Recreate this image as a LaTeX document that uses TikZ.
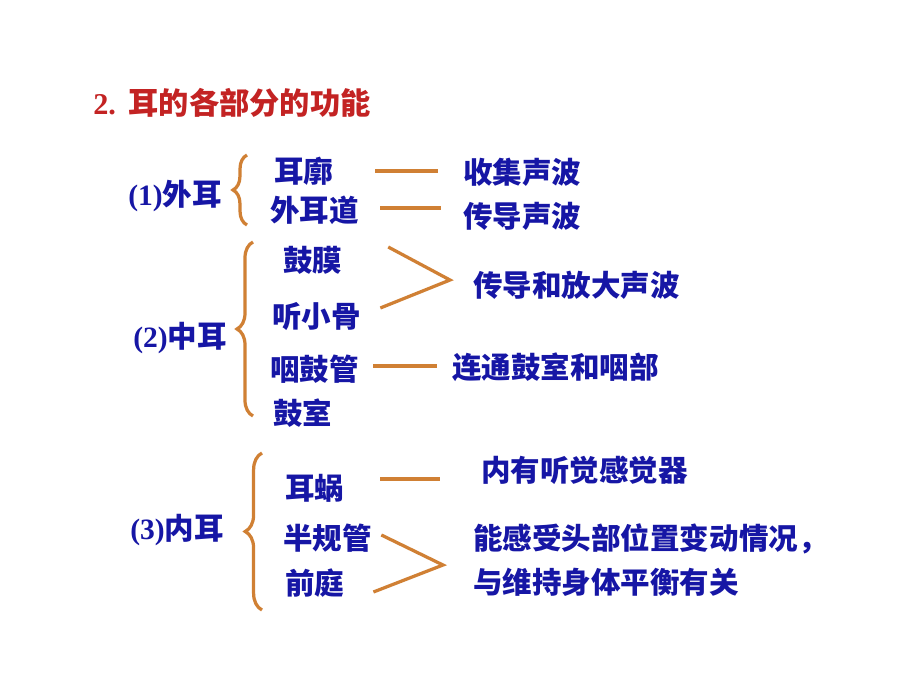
\documentclass[tikz,border=0pt]{standalone}
\usepackage{fontspec}
\newfontfamily\cjk{Noto Sans CJK SC}
\newfontfamily\lat{Liberation Serif}
\usetikzlibrary{decorations.pathreplacing, positioning}
\definecolor{txtblue}{RGB}{22,22,165}
\definecolor{ttlred}{RGB}{195,35,35}
\definecolor{lineor}{RGB}{208,128,52}

\begin{document}
\begin{tikzpicture}[
        x=0.025cm, y=-0.025cm,
        t/.style={anchor=west, inner sep=0pt, text=txtblue, font=\cjk\bfseries\fontsize{21}{31}\selectfont},
        ttl/.style={t, text=ttlred, font=\cjk\bfseries\fontsize{21.5}{26}\selectfont},
        ln/.style={draw=lineor, line width=2.3pt},
        br/.style={ln, decorate, decoration={brace, amplitude=#1}}
    ]
        \useasboundingbox[fill=white] (0,0) rectangle (920,690);

        \node[ttl] (title) at (93,103) {{\lat\bfseries 2.}\hspace{9pt}耳的各部分的功能};

        % outer ear
        \node[t] (waier)    at (128,196) {{\lat\bfseries (1)}外耳};
        \node[t] (erkuo)    at (274,171) {耳廓};
        \node[t] (erdao)    at (270,210) {外耳道};
        \node[t] (shouji)   at (463,172) {收集声波};
        \node[t] (chuandao) at (463,216) {传导声波};
        \draw[br=0.35cm] (247,225) -- (247,155);
        \draw[ln] ([xshift=1.04cm]erkuo.east) -- ++(63,0);
        \draw[ln] ([xshift=0.53cm,yshift=0.05cm]erdao.east) -- ++(61,0);

        % middle ear
        \node[t] (zhonger)  at (133,338) {{\lat\bfseries (2)}中耳};
        \node[t] (gumo)     at (283,260) {鼓膜};
        \node[t] (xiaogu)   at (272,316) {听小骨};
        \node[t] (yangu)    at (270,369) {咽鼓管};
        \node[t] (gushi)    at (273,413) {鼓室};
        \node[t] (fangda)   at (473,285) {传导和放大声波};
        \node[t] (liantong) at (452,367) {连通鼓室和咽部};
        \coordinate (tipA) at (450,280);
        \draw[br=0.4cm] (253,416) -- (253,242);
        \draw[ln] ([xshift=1.14cm,yshift=0.325cm]gumo.east) -- (tipA)
            -- ([xshift=0.48cm,yshift=0.2cm]xiaogu.east);
        \draw[ln] ([xshift=0.35cm,yshift=0.075cm]yangu.east) -- ++(64,0);

        % inner ear
        \node[t] (neier)    at (130,530) {{\lat\bfseries (3)}内耳};
        \node[t] (erwo)     at (285,488) {耳蜗};
        \node[t] (guiguan)  at (283,538) {半规管};
        \node[t] (qianting) at (285,583) {前庭};
        \node[t] (ganjue)   at (481,470) {内有听觉感觉器};
        \node[t, align=left] (pingheng) at (473,560) {能感受头部位置变动情况，\\与维持身体平衡有关};
        \coordinate (tipB) at (443,565);
        \draw[br=0.42cm] (262,610) -- (262,453);
        \draw[ln] ([xshift=0.89cm,yshift=0.225cm]erwo.east) -- ++(60,0);
        \draw[ln] ([xshift=0.23cm,yshift=0.075cm]guiguan.east) -- (tipB)
            -- ([xshift=0.72cm,yshift=-0.225cm]qianting.east);
    \end{tikzpicture}
\end{document}
